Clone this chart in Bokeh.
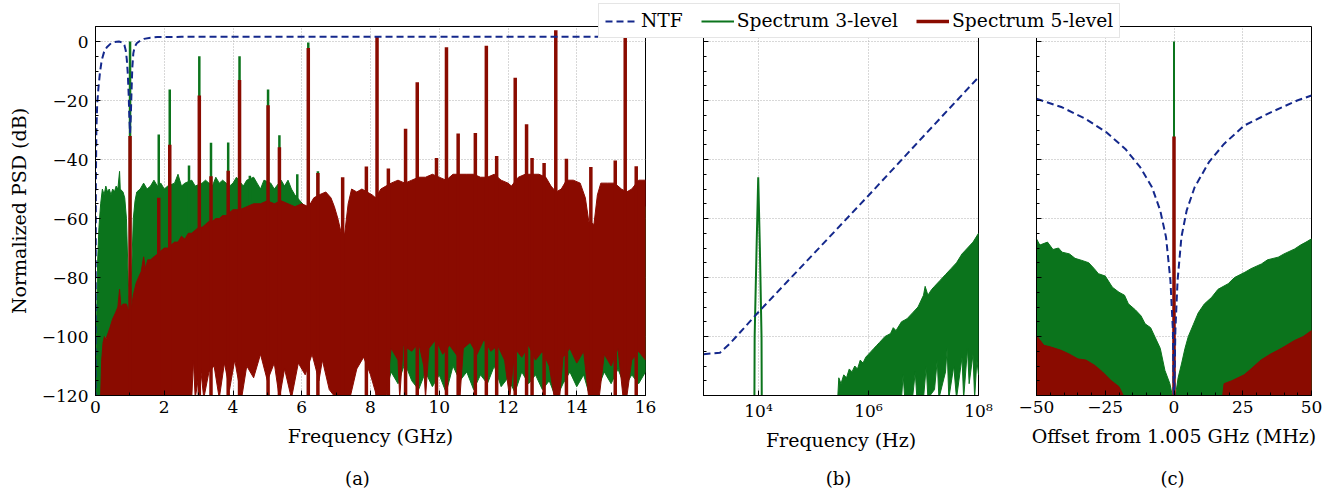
from bokeh.plotting import figure
from bokeh.models import (Range1d, SingleIntervalTicker, FixedTicker, Legend, LegendItem,
                          Label, CustomJSTickFormatter)
from bokeh.layouts import row, column
from bokeh.embed import file_html
from bokeh.resources import INLINE

FONT = "DejaVu Serif"
NTF_C = "#14288c"
G_C = "#0b741c"
R_C = "#8a0b00"

# ---------------- Panel (a): full band, frequency in GHz ----------------
A_NTF_F = [0, 0.01, 0.025, 0.05, 0.087, 0.13, 0.18, 0.25, 0.33, 0.45, 0.55, 0.68, 0.78, 0.84, 0.88,
           0.91, 0.94, 0.965, 0.985, 1.005, 1.025, 1.045, 1.07, 1.1, 1.14, 1.2, 1.3, 1.41, 1.6, 1.8, 2.5, 16]
A_NTF_DB = [-125, -50, -30, -21, -15.5, -10.5, -6.4, -3.5, -1.9, -0.6, -0.2, 0, -0.3, -1.2, -3,
            -6, -11, -18, -26, -31, -26, -18, -9, -4, -1.8, -0.6, 0.3, 0.9, 1.3, 1.5, 1.6, 1.6]

# 3-level spectrum: noise upper / lower envelope
A3_UP_F = [0.0, 0.03, 0.06, 0.1, 0.15, 0.2, 0.25, 0.3, 0.35, 0.4, 0.45, 0.5, 0.55, 0.6, 0.65, 0.7, 0.72,
           0.8, 0.85, 0.9, 0.95, 0.98, 1.02, 1.06, 1.1, 1.15, 1.2, 1.3, 1.4, 1.5, 1.6, 1.7, 1.8, 1.9,
           2.0, 2.1, 2.3, 2.4, 2.5, 2.6, 2.8, 2.9, 3.1, 3.2, 3.4, 3.5, 3.6, 3.7, 3.9, 4.0, 4.1, 4.3,
           4.4, 4.6, 4.7, 4.8, 4.9, 5.1, 5.2, 5.4, 5.5, 5.6, 5.7, 5.8, 5.95, 6.1, 6.3, 6.6, 7.0, 7.2,
           7.4, 8.0, 10.0, 12.0, 14.0, 14.4, 15.0, 16.0]
A3_UP_DB = [-120, -95, -75, -63, -55, -50, -52, -49, -51, -50, -52, -50, -51, -49, -50, -44, -50,
            -51, -53, -60, -80, -88, -88, -75, -60, -54, -51, -50, -48, -50, -49, -47, -49, -48,
            -50, -49, -48, -45, -49, -48, -47, -49, -48, -47, -49, -46, -48, -47, -49, -48, -46, -49,
            -47, -46, -48, -50, -47, -48, -50, -47, -49, -47, -50, -52, -54, -56, -57, -58, -62, -70,
            -62, -56, -55, -56, -56, -66, -57, -56]
A3_LO_F = [0.0, 0.25, 0.3, 8.3, 8.4, 8.6, 8.8, 9.0, 9.2, 9.4, 9.6, 9.8, 10.0, 10.2, 10.4, 10.6, 10.8,
           11.0, 11.2, 11.4, 11.6, 11.8, 12.0, 12.2, 12.4, 12.6, 12.8, 13.0, 13.2, 13.4, 13.6, 13.8,
           14.0, 14.2, 14.4, 14.6, 14.8, 15.0, 15.2, 15.4, 15.6, 15.8, 16.0]
A3_LO_DB = [-121, -121, -100, -100, -121, -112, -116, -109, -115, -118, -112, -117, -113, -119, -110,
            -115, -112, -118, -113, -116, -110, -117, -114, -119, -112, -116, -113, -118, -115, -121,
            -116, -112, -117, -113, -121, -118, -112, -116, -111, -117, -113, -116, -112]
A3_SPUR_F = [1.005, 1.84, 2.16, 2.72, 3.02, 3.36, 3.86, 4.19, 4.49, 5.02, 5.35, 5.87, 6.19, 6.47]
A3_SPUR_DB = [0.0, -31.5, -16.3, -42, -5.0, -34.3, -34.2, -5.0, -45.5, -16.3, -31.8, -45, -0.3, -44]

# 5-level spectrum
A5_UP_F = [0.15, 0.18, 0.22, 0.26, 0.3, 0.36, 0.42, 0.5, 0.58, 0.65, 0.7, 0.74, 0.8, 0.9, 0.95, 1.05,
           1.1, 1.18, 1.25, 1.33, 1.4, 1.45, 1.52, 1.6, 1.7, 1.81, 1.9, 2.0, 2.1, 2.2, 2.3, 2.4, 2.5,
           2.6, 2.7, 2.8, 2.9, 3.0, 3.1, 3.2, 3.3, 3.4, 3.5, 3.6, 3.7, 3.8, 3.9, 4.0, 4.2, 4.4, 4.6,
           4.8, 5.0, 5.2, 5.4, 5.6, 5.8, 6.0, 6.2, 6.35, 6.5, 6.7, 6.85, 6.95, 7.05, 7.15, 7.25, 7.35,
           7.45, 7.6, 7.75, 7.9, 8.05, 8.15, 8.3, 8.45, 8.6, 8.8, 9.0, 9.2, 9.4, 9.6, 9.8, 10.0, 10.2,
           10.4, 10.6, 10.8, 11.0, 11.2, 11.4, 11.6, 11.8, 12.0, 12.1, 12.3, 12.5, 12.7, 12.9, 13.1,
           13.25, 13.4, 13.55, 13.7, 13.9, 14.1, 14.25, 14.35, 14.5, 14.6, 14.7, 14.9, 15.1, 15.3,
           15.45, 15.6, 15.8, 16.0]
A5_UP_DB = [-120, -108, -102, -100, -101, -99, -97, -94, -92, -90, -84, -90, -89, -89, -91, -90,
            -86, -82, -80, -78, -73, -77, -74, -74, -73, -72, -71, -70, -70, -69, -68, -68, -66,
            -67, -65, -65, -64, -63, -63, -62, -61, -61, -60, -60, -59, -59, -58, -57, -57, -56, -55,
            -55, -54, -55, -54, -55, -56, -55, -56, -53, -52, -51, -53, -56, -60, -65, -65, -55,
            -50, -51, -50, -51, -52, -53, -50, -49, -48, -47, -48, -47, -46, -46, -45, -46, -47,
            -45, -45, -45, -45, -46, -46, -45, -47, -48, -49, -46, -45, -45, -45, -46,
            -49, -51, -50, -47, -47, -48, -53, -61, -62, -52, -48, -48, -48, -50,
            -51, -50, -47, -47]
A5_LO_F = [0.15, 2.8, 2.85, 2.9, 3.05, 3.15, 3.3, 3.45, 3.6, 3.75, 3.9, 4.05, 4.25, 4.4, 4.6, 4.8, 5.0,
           5.2, 5.35, 5.5, 5.7, 5.9, 6.1, 6.3, 6.5, 6.6, 6.8, 7.0, 7.4, 7.6, 7.8, 8.0, 8.2, 8.45, 8.6,
           8.8, 8.85, 8.95, 9.2, 9.4, 9.55, 9.6, 9.7, 9.9, 10.1, 10.3, 10.55, 10.6, 10.7, 10.9, 11.1,
           11.3, 11.5, 11.7, 11.9, 12.05, 12.2, 12.4, 12.6, 12.8, 13.0, 13.2, 13.35, 13.5, 13.6, 13.8,
           14.0, 14.2, 14.35, 14.65, 14.8, 15.0, 15.2, 15.35, 15.45, 15.6, 15.8, 16.0]
A5_LO_DB = [-121, -121, -108, -121, -110, -121, -112, -110, -121, -109, -118, -108, -121, -110, -114,
            -106, -115, -109, -121, -111, -121, -109, -113, -106, -115, -108, -118, -121, -121, -111,
            -107, -113, -121, -121, -104, -108, -121, -103, -105, -102, -110, -121, -104, -101, -106,
            -103, -107, -121, -104, -102, -106, -101, -105, -103, -108, -121, -104, -107, -103, -108,
            -105, -110, -121, -121, -107, -104, -109, -105, -121, -121, -106, -110, -104, -121, -121,
            -108, -105, -108]
A5_SPUR_F = [1.005, 1.84, 2.16, 3.02, 3.36, 3.86, 4.19, 5.02, 5.35, 6.19, 6.47, 7.19, 7.88, 8.19, 8.52,
             9.02, 9.36, 9.92, 10.21, 10.55, 11.05, 11.37, 11.67, 12.21, 12.54, 12.7, 13.05, 13.39,
             13.7, 14.41, 15.12, 15.41, 15.73]
A5_SPUR_DB = [-32, -53, -35, -18.3, -45.7, -43.8, -13, -21.6, -35.8, -2.2, -44.6, -46, -42.4, 1.6, -43,
              -29.6, -13.8, -39.5, -1.9, -31.2, -31, -1.4, -38.8, -12.3, -28, -39.5, -41.2, 3.8,
              -39.7, -42.5, -40.3, 2.8, -42.3]

# ---------------- Panel (b): low-frequency zoom, log10(frequency / Hz) ----------------
B_NTF_LOGF = [3.0, 3.3, 3.48, 4.0, 5.0, 6.0, 7.0, 8.0]
B_NTF_DB = [-106, -105.5, -102.4, -91.7, -72, -52.2, -32.1, -12.1]
B_TONE_LOGF = [3.925, 3.93, 3.965, 3.995, 4.025, 4.055, 4.06]
B_TONE_DB = [-125, -100, -70, -46, -70, -100, -125]
B3_UP_LOGF = [5.44, 5.46, 5.5, 5.55, 5.6, 5.65, 5.7, 5.75, 5.8, 5.85, 5.9, 5.95, 6.0, 6.05, 6.1, 6.15,
              6.2, 6.3, 6.4, 6.45, 6.5, 6.6, 6.7, 6.8, 6.9, 6.95, 7.0, 7.03, 7.08, 7.15, 7.2, 7.3,
              7.4, 7.5, 7.6, 7.7, 7.8, 7.9, 8.0]
B3_UP_DB = [-121, -114, -116, -113, -114, -111, -112, -110, -111, -108, -109, -107, -106, -105, -104,
            -103, -102, -100, -99, -97, -98, -95, -94, -92, -90, -88, -86, -83, -86, -84, -83, -81,
            -79, -77, -75, -72, -70, -68, -65]
B3_LO_LOGF = [5.44, 6.6, 6.63, 6.66, 6.8, 6.85, 6.88, 7.0, 7.05, 7.08, 7.2, 7.25, 7.28, 7.4, 7.43,
              7.46, 7.55, 7.6, 7.7, 7.73, 7.8, 7.83, 7.9, 7.93, 7.97, 8.0]
B3_LO_DB = [-121, -121, -113, -121, -121, -112, -121, -121, -110, -121, -118, -108, -121, -112, -104,
            -121, -110, -121, -107, -121, -104, -116, -106, -121, -108, -113]

# ---------------- Panel (c): around the 1.005 GHz tone, offset in MHz ----------------
C_NTF_OFF = [-50, -40.7, -32.2, -24.7, -17.7, -12.3, -8, -5, -2.9, -1.3, -0.4, 0, 0.5, 1.3, 2.7, 4.6,
             7.5, 12.7, 18.2, 25.5, 35.2, 44.8, 50]
C_NTF_DB = [-19.4, -22.3, -26.2, -30.7, -36.4, -42.6, -49.4, -57.3, -66.3, -81, -98, -125, -98, -81,
            -66.3, -57.3, -49.4, -40.9, -34.7, -28.5, -24, -20, -18.3]
C3_UP_OFF = [-50, -48.8, -46, -44, -42, -40.7, -38, -36, -33.5, -31, -29, -27.5, -25, -22.4, -20, -18,
             -16.6, -14, -12, -10.5, -8.5, -6.9, -5, -3.3, -1.5, -0.4, 0.4, 1.5, 2.8, 4, 5.2, 7,
             8.8, 11, 13.7, 16, 19.7, 22, 25.8, 28, 31.8, 34, 37.9, 40, 43.9, 46, 48, 50]
C3_UP_DB = [-66.9, -69, -68, -70.5, -70, -71.4, -72, -73.5, -74.2, -75, -77, -78.7, -79.5, -83.3,
            -85, -86, -88.9, -91, -93, -95.7, -97, -100.2, -104, -111.5, -116, -121, -121, -114,
            -109, -104, -100, -96, -92, -89, -86.7, -84, -82.1, -80, -78.2, -77, -75.4, -74, -73.1,
            -72, -70.3, -69, -68, -66.9]
C5_UP_OFF = [-50, -47.3, -45, -41, -38, -34.9, -32, -28.8, -26, -22.8, -20, -17.9,
             17.6, 18.2, 21, 25.5, 28, 31.6, 35, 37.7, 40, 43.7, 47, 50]
C5_UP_DB = [-99.7, -103, -103.5, -104.7, -106, -107.6, -108, -109.8, -112, -115, -117, -121,
            -121, -116, -115, -113, -111, -108, -106, -104.7, -103.5, -101.4, -100, -98]
C_TONE_OFF = [0.0]
C3_TONE_DB = [0.0]
C5_TONE_DB = [-32.2]

SUB_LABELS = ["(a)", "(b)", "(c)"]

Y_MIN, Y_MAX = -120, 5.1
FIG_H = 495

minus_fmt = CustomJSTickFormatter(code="return tick < 0 ? '\u2212' + (-tick) : '' + tick;")
blank_fmt = CustomJSTickFormatter(code="return '';")
log_fmt = CustomJSTickFormatter(code="""
const e = Math.round(Math.log10(tick));
const sup = {'0':'\u2070','1':'\u00b9','2':'\u00b2','3':'\u00b3','4':'\u2074','5':'\u2075','6':'\u2076','7':'\u2077','8':'\u2078','9':'\u2079'};
return '10' + String(e).split('').map(c => sup[c]).join('');
""")


def base_fig(width, left, right, x_range, x_type="linear"):
    p = figure(width=width, height=FIG_H, x_range=x_range, y_range=Range1d(Y_MIN, Y_MAX),
               x_axis_type=x_type, output_backend="svg", toolbar_location=None,
               min_border_left=left, min_border_right=right, min_border_top=26,
               min_border_bottom=FIG_H - 26 - 369)
    p.outline_line_color = "black"
    p.outline_line_width = 1
    p.background_fill_color = "white"
    p.border_fill_color = "white"
    for ax in p.axis:
        ax.major_tick_in = 5
        ax.major_tick_out = 0
        ax.minor_tick_in = 3
        ax.minor_tick_out = 0
        ax.axis_line_color = "black"
        ax.major_tick_line_color = "black"
        ax.minor_tick_line_color = "black"
        ax.major_label_text_font = FONT
        ax.major_label_text_font_size = "17px"
        ax.major_label_text_color = "black"
        ax.major_label_standoff = 5
        ax.axis_label_text_font = FONT
        ax.axis_label_text_font_size = "19px"
        ax.axis_label_text_font_style = "normal"
        ax.axis_label_text_color = "black"
        ax.axis_label_standoff = 9
    p.yaxis.major_label_standoff = 7
    p.yaxis.ticker = SingleIntervalTicker(interval=20, num_minor_ticks=4)
    p.yaxis.formatter = minus_fmt
    p.ygrid.ticker = SingleIntervalTicker(interval=20)
    for g in (p.xgrid, p.ygrid):
        g.grid_line_color = "#b0b0b0"
        g.grid_line_dash = "1 2"
        g.grid_line_width = 1
    return p


# ---- (a)
fa = base_fig(670, 95, 25, Range1d(0, 16))
fa.xaxis.ticker = SingleIntervalTicker(interval=2, num_minor_ticks=2)
fa.xgrid.ticker = SingleIntervalTicker(interval=2)
fa.xaxis.axis_label = "Frequency (GHz)"
fa.yaxis.axis_label = "Normalized PSD (dB)"
fa.yaxis.axis_label_standoff = 9
fa.patch(A3_UP_F + A3_LO_F[::-1], A3_UP_DB + A3_LO_DB[::-1], fill_color=G_C, line_color=G_C,
         line_width=1)
fa.segment(x0=A3_SPUR_F, y0=[-100] * len(A3_SPUR_F), x1=A3_SPUR_F, y1=A3_SPUR_DB,
           line_color=G_C, line_width=2.5)
fa.patch(A5_UP_F + A5_LO_F[::-1], A5_UP_DB + A5_LO_DB[::-1], fill_color=R_C, line_color=R_C,
         line_width=1)
fa.segment(x0=A5_SPUR_F, y0=[-121] * len(A5_SPUR_F), x1=A5_SPUR_F, y1=A5_SPUR_DB,
           line_color=R_C, line_width=3.5)
fa.line(A_NTF_F, A_NTF_DB, line_color=NTF_C, line_width=2, line_dash="7 4")

# ---- (b)
fb = base_fig(333, 33, 25, Range1d(1e3, 1e8), x_type="log")
fb.xaxis.ticker = FixedTicker(ticks=[1e4, 1e6, 1e8])
fb.xgrid.ticker = FixedTicker(ticks=[1e4, 1e6, 1e8])
fb.xaxis.formatter = log_fmt
fb.xaxis.axis_label_standoff = 5
fb.yaxis.formatter = blank_fmt
fb.yaxis.major_label_standoff = 0
fb.xaxis.axis_label = "Frequency (Hz)"
b_up_x = [10 ** v for v in B3_UP_LOGF]
b_lo_x = [10 ** v for v in B3_LO_LOGF]
fb.patch(b_up_x + b_lo_x[::-1], B3_UP_DB + B3_LO_DB[::-1], fill_color=G_C, line_color=G_C,
         line_width=1)
fb.line([10 ** v for v in B_TONE_LOGF], B_TONE_DB, line_color=G_C, line_width=2)
fb.line([10 ** v for v in B_NTF_LOGF], B_NTF_DB, line_color=NTF_C, line_width=2, line_dash="7 4")

# ---- (c)
fc = base_fig(328, 33, 20, Range1d(-50, 50))
fc.xaxis.ticker = SingleIntervalTicker(interval=25, num_minor_ticks=5)
fc.xgrid.ticker = SingleIntervalTicker(interval=25)
fc.xaxis.formatter = minus_fmt
fc.yaxis.formatter = blank_fmt
fc.yaxis.major_label_standoff = 0
fc.xaxis.axis_label = "Offset from 1.005 GHz (MHz)"
fc.patch(C3_UP_OFF + [50, -50], C3_UP_DB + [-121, -121], fill_color=G_C, line_color=G_C,
         line_width=1)
fc.segment(x0=C_TONE_OFF, y0=[-121], x1=C_TONE_OFF, y1=C3_TONE_DB, line_color=G_C, line_width=2)
fc.patch(C5_UP_OFF[:12] + [C5_UP_OFF[0]], C5_UP_DB[:12] + [-121], fill_color=R_C, line_color=R_C,
         line_width=1)
fc.patch(C5_UP_OFF[12:] + [C5_UP_OFF[-1]], C5_UP_DB[12:] + [-121], fill_color=R_C, line_color=R_C,
         line_width=1)
fc.segment(x0=C_TONE_OFF, y0=[-121], x1=C_TONE_OFF, y1=C5_TONE_DB, line_color=R_C, line_width=3.5)
fc.line(C_NTF_OFF, C_NTF_DB, line_color=NTF_C, line_width=2, line_dash="7 4")


def overlay_fig(width, height, left, top):
    p = figure(width=width, height=height, output_backend="svg", toolbar_location=None,
               x_axis_location=None, y_axis_location=None, min_border=0,
               x_range=Range1d(0, 1), y_range=Range1d(0, 1))
    p.grid.visible = False
    p.outline_line_color = None
    p.background_fill_color = None
    p.border_fill_color = None
    p.styles = {"position": "absolute", "left": f"{left}px", "top": f"{top}px", "z-index": "10"}
    return p


# ---- sub-figure captions (a), (b), (c)
fcap = overlay_fig(1330, 30, 0, 463)
for txt, cx in zip(SUB_LABELS, [357, 838, 1172]):
    fcap.add_layout(Label(x=cx, y=15, x_units="screen", y_units="screen", text=txt,
                          text_align="center", text_baseline="middle", text_font=FONT,
                          text_font_size="18px", text_color="black"))

# ---- legend (floating over the top of the panels)
fl = overlay_fig(540, 40, 598, 3)
rn = fl.line([5, 6], [5, 6], line_color=NTF_C, line_width=2, line_dash="7 4")
rg = fl.line([5, 6], [5, 6], line_color=G_C, line_width=2)
rr = fl.line([5, 6], [5, 6], line_color=R_C, line_width=3.5)
leg = Legend(items=[LegendItem(label="NTF", renderers=[rn]),
                    LegendItem(label="Spectrum 3-level", renderers=[rg]),
                    LegendItem(label="Spectrum 5-level", renderers=[rr])],
             orientation="horizontal", location="top_left", margin=0, padding=6, spacing=18,
             glyph_width=33, label_standoff=3, label_text_font=FONT, label_text_font_size="18.7px",
             label_text_color="black", border_line_color="#cccccc", border_line_width=1,
             background_fill_color="white", background_fill_alpha=1)
fl.add_layout(leg, "center")

lay = column(row(fa, fb, fc), fcap, fl)
open("out.html", "w").write(file_html(lay, INLINE))
